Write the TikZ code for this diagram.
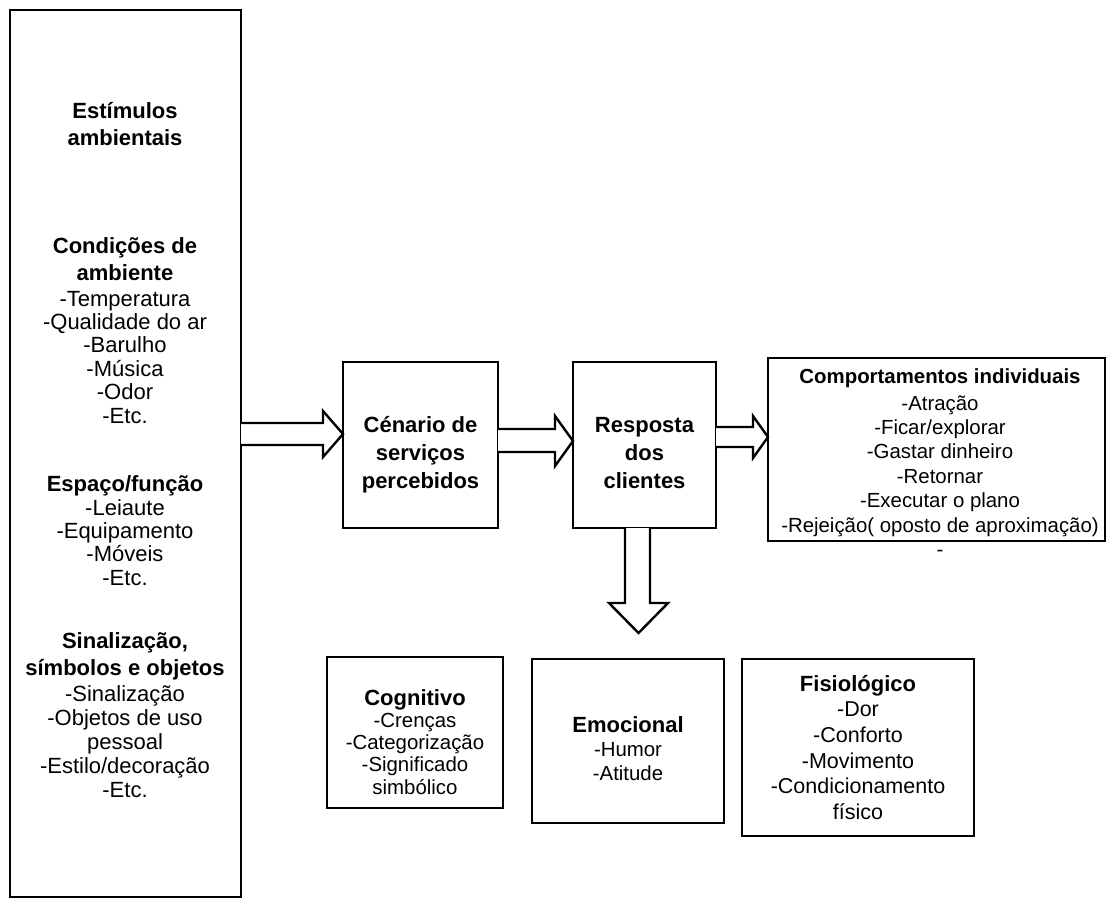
\documentclass[tikz,border=0pt]{standalone}
\usepackage{fontspec}
\setmainfont{Liberation Sans}
\usetikzlibrary{calc}
\newcommand\myfst{\rule{0pt}{24pt}}
\begin{document}
\begin{tikzpicture}[x=1pt,y=-1pt,
  box/.style={draw, line width=2.8pt, inner sep=0pt, outer sep=0pt, anchor=north west},
  txt/.style={inner sep=0pt, outer sep=0pt, anchor=north, align=center},
  barrow/.style={draw, fill=white, line width=2.4pt, line join=miter}]
\useasboundingbox (0,0) rectangle (1106,898);
\fill[white] (0,0) rectangle (1106,898);

% boxes
\node[box, minimum width=231pt, minimum height=887pt] (stim) at (10,10) {};
\node[box, minimum width=155pt, minimum height=166pt] (cen) at (343,362) {};
\node[box, minimum width=143pt, minimum height=166pt] (resp) at (573,362) {};
\node[box, minimum width=337pt, minimum height=183pt] (comp) at (768,358) {};
\node[box, minimum width=176pt, minimum height=151pt] (cog) at (327,657) {};
\node[box, minimum width=192pt, minimum height=164pt] (emo) at (532,659) {};
\node[box, minimum width=232pt, minimum height=177pt] (fis) at (742,659) {};

% block arrows
\draw[barrow] (stim.east |- 0,423) -- (323,423) -- (323,411) -- (cen.west |- 0,434)
  -- (323,457) -- (323,445) -- (stim.east |- 0,445);
\draw[barrow] (cen.east |- 0,429) -- (555,429) -- (555,416) -- (resp.west |- 0,441)
  -- (555,466) -- (555,452) -- (cen.east |- 0,452);
\draw[barrow] (resp.east |- 0,427) -- (753,427) -- (753,416) -- (comp.west |- 0,437)
  -- (753,458) -- (753,447) -- (resp.east |- 0,447);
\coordinate (dtip) at (638.5,633);
\draw[barrow] (625,0 |- resp.south) -- (625,603) -- (609,603) -- (dtip)
  -- (668,603) -- (650,603) -- (650,0 |- resp.south);

% texts
\node[txt, font=\fontsize{22pt}{27pt}\selectfont\bfseries] (t1) at (125,94)
  {\myfst Estímulos\\ambientais};
\node[txt, font=\fontsize{22pt}{23.4pt}\selectfont] (t2) at (125,229)
  {\textbf{\myfst Condições de}\\[3.6pt]\textbf{ambiente}\\[2.6pt]-Temperatura\\-Qualidade do ar\\-Barulho\\-Música\\-Odor\\-Etc.};
\node[txt, font=\fontsize{22pt}{23.4pt}\selectfont] (t3) at (125,467)
  {\textbf{\myfst Espaço/função}\\[0.6pt]-Leiaute\\-Equipamento\\-Móveis\\-Etc.};
\node[txt, font=\fontsize{22pt}{24pt}\selectfont] (t4) at (125,624)
  {\textbf{\myfst Sinalização,}\\[3pt]\textbf{símbolos e objetos}\\[2pt]-Sinalização\\-Objetos de uso\\pessoal\\-Estilo/decoração\\-Etc.};

\node[txt, font=\fontsize{22pt}{28pt}\selectfont\bfseries] (tcen) at (420.5,408)
  {\myfst Cénario de\\serviços\\percebidos};
\node[txt, font=\fontsize{22pt}{28pt}\selectfont\bfseries] (tresp) at (644.5,408)
  {\myfst Resposta\\dos\\clientes};

\node[txt, font=\fontsize{20.4pt}{24.4pt}\selectfont] (tcomp) at (940,359)
  {\textbf{\myfst Comportamentos individuais}\\[2.6pt]-Atração\\-Ficar/explorar\\-Gastar dinheiro\\-Retornar\\-Executar o plano\\-Rejeição( oposto de aproximação)\\-};

\node[txt, font=\fontsize{20.4pt}{22.3pt}\selectfont] (tcog) at (415,681)
  {\textbf{\fontsize{22pt}{22.3pt}\selectfont\myfst Cognitivo}\\-Crenças\\-Categorização\\-Significado\\simbólico};
\node[txt, font=\fontsize{20.4pt}{24pt}\selectfont] (temo) at (628,708)
  {\textbf{\fontsize{22pt}{24pt}\selectfont\myfst Emocional}\\-Humor\\-Atitude};
\node[txt, font=\fontsize{21.5pt}{25.7pt}\selectfont] (tfis) at (858,667)
  {\textbf{\fontsize{22pt}{25.7pt}\selectfont\myfst Fisiológico}\\-Dor\\-Conforto\\-Movimento\\-Condicionamento\\físico};
\end{tikzpicture}
\end{document}
